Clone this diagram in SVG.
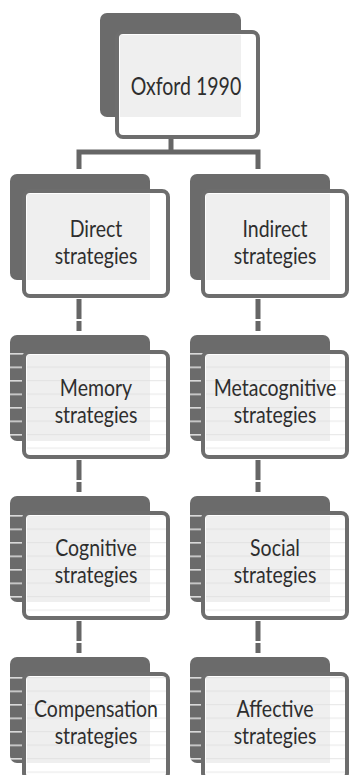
<svg xmlns="http://www.w3.org/2000/svg" width="350" height="775" viewBox="0 0 350 775">
<style>
.back{fill:#6b6b6b}
.front{fill:#ffffff;stroke:#6d6d6d;stroke-width:4}
.inner{fill:#efefef}
.stripe{fill:url(#stripes)}
.lbl{font-family:Lato,"Liberation Sans",sans-serif;font-size:19.5px;fill:#2e2e2e;text-anchor:middle}
.conn{fill:none;stroke:#666666;stroke-width:5}
.dash{stroke-dasharray:20 2 10 200}
</style>
<defs>
<pattern id="stripes" patternUnits="userSpaceOnUse" width="20" height="13.5" y="2">
<rect x="0" y="0" width="20" height="1.6" fill="#ffffff" fill-opacity="0.75"/>
</pattern>
<pattern id="stripesLight" patternUnits="userSpaceOnUse" width="20" height="13.5" y="2">
<rect x="0" y="0" width="20" height="1.2" fill="#dcdcdc" fill-opacity="0.6"/>
</pattern>
</defs>
<rect width="350" height="775" fill="#ffffff"/>

<g id="connectors">
<path class="conn" d="M171,139 V152"/>
<path class="conn" d="M79,169 V152 H258 V169"/>
<path class="conn dash" d="M79,299 V334"/>
<path class="conn dash" d="M79,460 V495"/>
<path class="conn dash" d="M79,621 V656"/>
<path class="conn dash" d="M258,299 V334"/>
<path class="conn dash" d="M258,460 V495"/>
<path class="conn dash" d="M258,621 V656"/>
</g>

<g id="oxford">
<rect class="back" x="100" y="13" width="141" height="104" rx="7"/>
<rect class="front" x="117" y="32" width="141" height="105" rx="6"/>
<rect class="inner" x="120" y="35" width="121" height="82"/>
<text class="lbl" transform="translate(186,95) scale(1,1.25)">Oxford 1990</text>
</g>

<g id="direct">
<rect class="back" x="10" y="174" width="140" height="106" rx="7"/>
<rect class="front" x="24" y="191" width="144" height="105" rx="6"/>
<rect class="inner" x="27" y="194" width="123" height="86"/>
<text class="lbl" transform="translate(96,237) scale(1,1.18)">Direct</text>
<text class="lbl" transform="translate(96,264) scale(1,1.18)">strategies</text>
</g>

<g id="indirect">
<rect class="back" x="190" y="174" width="140" height="106" rx="7"/>
<rect class="front" x="203" y="191" width="144" height="105" rx="6"/>
<rect class="inner" x="206" y="194" width="124" height="86"/>
<text class="lbl" transform="translate(275,237) scale(1,1.18)">Indirect</text>
<text class="lbl" transform="translate(275,264) scale(1,1.18)">strategies</text>
</g>

<g id="memory">
<rect class="back" x="10" y="335" width="140" height="106" rx="7"/>
<rect class="stripe" x="10" y="348" width="140" height="93"/>
<rect class="front" x="24" y="352" width="144" height="105" rx="6"/>
<rect class="inner" x="27" y="355" width="123" height="86"/>
<rect x="27" y="355" width="139" height="98" fill="url(#stripesLight)"/>
<text class="lbl" transform="translate(96,396) scale(1,1.18)">Memory</text>
<text class="lbl" transform="translate(96,423) scale(1,1.18)">strategies</text>
</g>

<g id="metacognitive">
<rect class="back" x="190" y="335" width="140" height="106" rx="7"/>
<rect class="stripe" x="190" y="348" width="140" height="93"/>
<rect class="front" x="203" y="352" width="144" height="105" rx="6"/>
<rect class="inner" x="206" y="355" width="124" height="86"/>
<rect x="206" y="355" width="139" height="98" fill="url(#stripesLight)"/>
<text class="lbl" transform="translate(275,396) scale(1,1.18)">Metacognitive</text>
<text class="lbl" transform="translate(275,423) scale(1,1.18)">strategies</text>
</g>

<g id="cognitive">
<rect class="back" x="10" y="496" width="140" height="106" rx="7"/>
<rect class="stripe" x="10" y="509" width="140" height="93"/>
<rect class="front" x="24" y="513" width="144" height="105" rx="6"/>
<rect class="inner" x="27" y="516" width="123" height="86"/>
<rect x="27" y="516" width="139" height="98" fill="url(#stripesLight)"/>
<text class="lbl" transform="translate(96,556) scale(1,1.18)">Cognitive</text>
<text class="lbl" transform="translate(96,583) scale(1,1.18)">strategies</text>
</g>

<g id="social">
<rect class="back" x="190" y="496" width="140" height="106" rx="7"/>
<rect class="stripe" x="190" y="509" width="140" height="93"/>
<rect class="front" x="203" y="513" width="144" height="105" rx="6"/>
<rect class="inner" x="206" y="516" width="124" height="86"/>
<rect x="206" y="516" width="139" height="98" fill="url(#stripesLight)"/>
<text class="lbl" transform="translate(275,556) scale(1,1.18)">Social</text>
<text class="lbl" transform="translate(275,583) scale(1,1.18)">strategies</text>
</g>

<g id="compensation">
<rect class="back" x="10" y="657" width="140" height="106" rx="7"/>
<rect class="stripe" x="10" y="670" width="140" height="93"/>
<rect class="front" x="24" y="674" width="144" height="105" rx="6"/>
<rect class="inner" x="27" y="677" width="123" height="86"/>
<rect x="27" y="677" width="139" height="98" fill="url(#stripesLight)"/>
<text class="lbl" transform="translate(96,717) scale(1,1.18)">Compensation</text>
<text class="lbl" transform="translate(96,744) scale(1,1.18)">strategies</text>
</g>

<g id="affective">
<rect class="back" x="190" y="657" width="140" height="106" rx="7"/>
<rect class="stripe" x="190" y="670" width="140" height="93"/>
<rect class="front" x="203" y="674" width="144" height="105" rx="6"/>
<rect class="inner" x="206" y="677" width="124" height="86"/>
<rect x="206" y="677" width="139" height="98" fill="url(#stripesLight)"/>
<text class="lbl" transform="translate(275,717) scale(1,1.18)">Affective</text>
<text class="lbl" transform="translate(275,744) scale(1,1.18)">strategies</text>
</g>
</svg>
